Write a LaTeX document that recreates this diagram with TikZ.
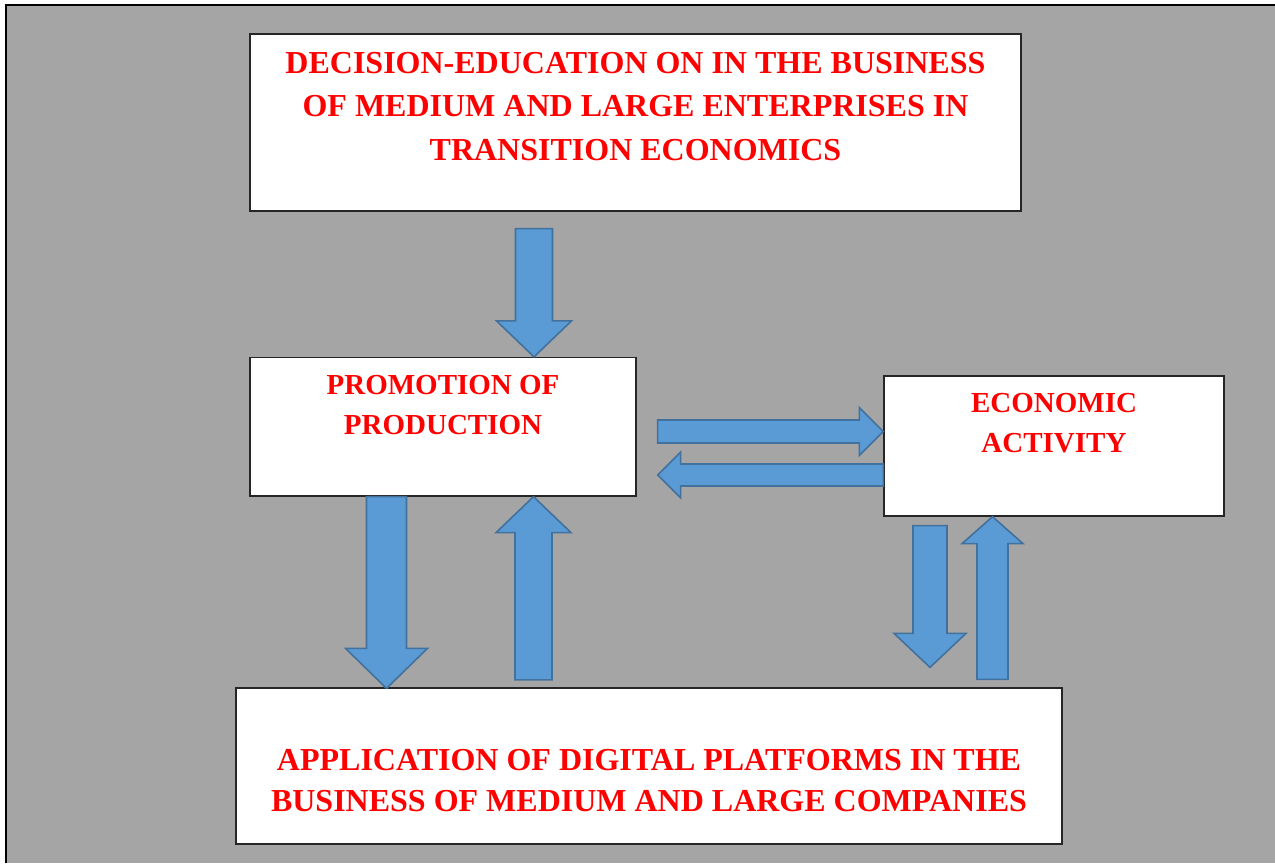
\documentclass[tikz,border=0pt]{standalone}
\usepackage{fontspec}
\setmainfont{Liberation Serif}
\usetikzlibrary{calc}

\definecolor{bggray}{RGB}{165,165,165}
\definecolor{arrowfill}{RGB}{91,155,213}
\definecolor{arrowline}{RGB}{65,113,156}
\definecolor{textred}{RGB}{255,0,0}

% block arrow: start, tip, half shaft, half head, head length (pt)
\newcommand{\blockarrow}[5]{%
  \coordinate (ba-s) at #1;
  \coordinate (ba-e) at #2;
  \coordinate (ba-h) at ($(ba-e)!#5pt!(ba-s)$);
  \draw[blockarrow] ($(ba-s)!#3pt!90:(ba-e)$) -- ($(ba-h)!#3pt!-90:(ba-s)$)
    -- ($(ba-h)!#4pt!-90:(ba-s)$) -- (ba-e) -- ($(ba-h)!#4pt!90:(ba-s)$)
    -- ($(ba-h)!#3pt!90:(ba-s)$) -- ($(ba-s)!#3pt!-90:(ba-e)$) -- cycle;
}

\tikzset{
  box/.style={draw=black!85, line width=1.3pt, fill=white, inner sep=0pt},
  bigtext/.style={text=textred, font=\bfseries\fontsize{32}{43.5}\selectfont,
    align=center, anchor=base, inner sep=0pt},
  smalltext/.style={text=textred, font=\bfseries\fontsize{29}{40}\selectfont,
    align=center, anchor=base, inner sep=0pt},
  blockarrow/.style={fill=arrowfill, draw=arrowline, line width=1.6pt, line join=miter}
}

\begin{document}
\begin{tikzpicture}[x=1pt, y=-1pt]
        \useasboundingbox (0,0) rectangle (1275,863);
        % background and frame
        \fill[bggray] (6,5) rectangle (1275,863);
        \draw[black, line width=2pt] (6,863) -- (6,5) -- (1275,5);

        % boxes
        \node[box, minimum width=771pt, minimum height=177pt] (decision) at (635.5,122.5) {};
        \node[box, minimum width=386pt, minimum height=138.5pt] (promotion) at (443,426.75) {};
        \node[box, minimum width=340pt, minimum height=140pt] (economic) at (1054,446) {};
        \node[box, minimum width=826pt, minimum height=156pt] (application) at (649,766) {};

        % texts (base = last line)
        \node[bigtext] (decisiontext) at ([yshift=-127pt]decision.north)
            {DECISION-EDUCATION ON IN THE BUSINESS\\OF MEDIUM AND LARGE ENTERPRISES IN\\TRANSITION ECONOMICS};
        \node[smalltext] (promotiontext) at ([yshift=-77.5pt]promotion.north)
            {PROMOTION OF\\PRODUCTION};
        \node[smalltext, font=\bfseries\fontsize{29}{39.4}\selectfont] (economictext) at ([yshift=-76.7pt]economic.north)
            {ECONOMIC\\ACTIVITY};
        \node[bigtext, font=\bfseries\fontsize{32}{40.7}\selectfont] (applicationtext) at ([yshift=-123.7pt]application.north)
            {APPLICATION OF DIGITAL PLATFORMS IN THE\\BUSINESS OF MEDIUM AND LARGE COMPANIES};

        % arrows
        \blockarrow{([xshift=-101.5pt,yshift=-17pt]decision.south)}{([xshift=91pt]promotion.north)}{18.5}{37.5}{36}
        \blockarrow{([xshift=21pt,yshift=-4.75pt]promotion.east)}{([yshift=14.5pt]economic.west)}{11.5}{24}{24}
        \blockarrow{([yshift=-29pt]economic.west)}{([xshift=21pt,yshift=-48.25pt]promotion.east)}{11}{23}{23}
        \blockarrow{([xshift=-56.5pt]promotion.south)}{([xshift=-262.5pt,yshift=-1pt]application.north)}{20}{41}{40}
        \blockarrow{([xshift=-115.5pt,yshift=7.5pt]application.north)}{([xshift=90.5pt]promotion.south)}{18.5}{37.5}{36}
        \blockarrow{([xshift=-124pt,yshift=-9pt]economic.south)}{([xshift=281pt,yshift=20pt]application.north)}{17}{36}{34}
        \blockarrow{([xshift=343.5pt,yshift=8pt]application.north)}{([xshift=-61.5pt]economic.south)}{15.5}{30.5}{27}
    \end{tikzpicture}
\end{document}
